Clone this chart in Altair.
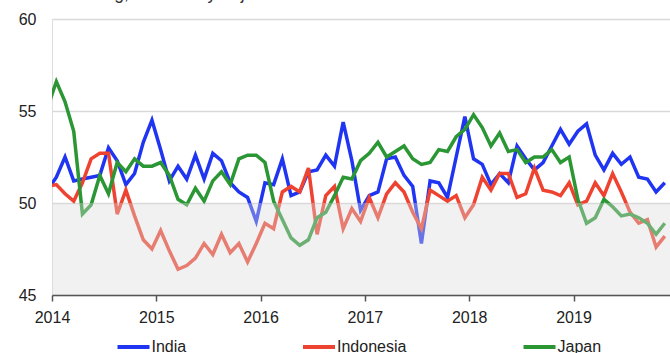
import altair as alt
import pandas as pd

# ---- data (monthly PMI, Dec 2013 .. Nov 2019) ----
months = pd.date_range("2013-12-01", "2019-11-01", freq="MS")

india = [50.7,
         51.4, 52.5, 51.2, 51.3, 51.4, 51.5, 53.0, 52.3, 51.0, 51.6, 53.3, 54.5,
         52.9, 51.2, 52.0, 51.3, 52.6, 51.3, 52.7, 52.3, 51.1, 50.6, 50.3, 49.0,
         51.1, 51.0, 52.4, 50.4, 50.6, 51.7, 51.8, 52.6, 52.0, 54.4, 52.3, 49.6,
         50.4, 50.6, 52.4, 52.5, 51.5, 50.9, 47.8, 51.2, 51.1, 50.3, 52.5, 54.7,
         52.4, 52.1, 51.0, 51.6, 51.1, 53.1, 52.4, 51.8, 52.2, 53.1, 54.0, 53.2,
         53.9, 54.3, 52.6, 51.8, 52.7, 52.1, 52.5, 51.4, 51.3, 50.6, 51.1]

indonesia = [50.9,
             51.0, 50.5, 50.1, 51.1, 52.4, 52.7, 52.7, 49.4, 50.7, 49.3, 48.0, 47.5,
             48.5, 47.4, 46.4, 46.6, 47.0, 47.8, 47.2, 48.3, 47.3, 47.8, 46.8, 47.8,
             48.9, 48.6, 50.6, 50.9, 50.6, 51.9, 48.3, 50.4, 50.9, 48.6, 49.7, 49.0,
             50.3, 49.2, 50.5, 51.1, 50.6, 49.5, 48.6, 50.7, 50.4, 50.1, 50.4, 49.2,
             49.9, 51.4, 50.7, 51.6, 51.6, 50.3, 50.5, 51.9, 50.7, 50.6, 50.4, 51.1,
             49.9, 50.1, 51.1, 50.4, 51.6, 50.6, 49.5, 48.9, 49.1, 47.6, 48.2]

japan = [55.2,
         56.6, 55.5, 53.9, 49.4, 49.9, 51.5, 50.5, 52.2, 51.7, 52.4, 52.0, 52.0,
         52.2, 51.5, 50.2, 49.9, 50.8, 50.1, 51.2, 51.7, 51.0, 52.4, 52.6, 52.6,
         52.2, 50.1, 49.1, 48.1, 47.7, 48.0, 49.2, 49.5, 50.4, 51.4, 51.3, 52.3,
         52.7, 53.3, 52.5, 52.8, 53.1, 52.4, 52.1, 52.2, 52.9, 52.8, 53.6, 54.0,
         54.8, 54.1, 53.1, 53.8, 52.8, 52.9, 52.2, 52.5, 52.5, 52.9, 52.2, 52.5,
         50.2, 48.9, 49.2, 50.2, 49.8, 49.3, 49.4, 49.2, 48.9, 48.3, 48.9]

series = ["India", "Indonesia", "Japan"]
colors = ["#1f35f2", "#ef4331", "#2b9634"]
y_ticks = [45, 50, 55, 60]
x_ticks = [2014, 2015, 2016, 2017, 2018, 2019]
threshold = 50
floor = 45
title_text = "manufacturing, seasonally adjusted"

rows = []
for name, vals in zip(series, [india, indonesia, japan]):
    for m, v in zip(months, vals):
        rows.append({"country": name,
                     "t": m.year + (m.month - 0.5) / 12.0,
                     "pmi": v})
df = pd.DataFrame(rows)

FONT = "Liberation Sans"

x_enc = alt.X("t:Q",
              scale=alt.Scale(domain=[2014, 2019.925], nice=False, zero=False),
              axis=alt.Axis(values=x_ticks, format="d", title=None, grid=False,
                            domainColor="#555555", tickColor="#555555",
                            domainWidth=1.5, tickWidth=1.5, tickSize=6,
                            labelFontSize=16, labelPadding=8, labelColor="#222222",
                            labelFont=FONT, labelFlush=False, labelOverlap=False,
                            zindex=1))
y_enc = alt.Y("pmi:Q",
              scale=alt.Scale(domain=[floor, 60], nice=False, zero=False),
              axis=alt.Axis(values=y_ticks, title=None, domain=False, ticks=False,
                            tickSize=0, labelPadding=16, labelFontSize=16,
                            labelColor="#222222", labelFont=FONT,
                            gridColor="#d9d9d9", gridWidth=1.3))

lines = alt.Chart(df).mark_line(strokeWidth=3.5, clip=True).encode(
    x=x_enc,
    y=y_enc,
    color=alt.Color("country:N",
                    scale=alt.Scale(domain=series, range=colors),
                    legend=alt.Legend(title=None, orient="none", legendX=63.5, legendY=310,
                                      direction="horizontal", symbolType="stroke",
                                      symbolSize=1024, symbolStrokeWidth=4,
                                      labelFontSize=16, labelFont=FONT,
                                      labelColor="#222222", columnPadding=108.5,
                                      labelOffset=0, padding=0, labelLimit=300)),
)

band = alt.Chart(pd.DataFrame({"k": [0]})).mark_rect(color="#d9d9d9", opacity=0.38).encode(
    x=alt.value(0), x2=alt.value("width"),
    y=alt.datum(floor), y2=alt.datum(threshold),
)

title = alt.Chart(pd.DataFrame({"label": [title_text]})).mark_text(
    align="left", baseline="alphabetic", fontSize=17.5, font=FONT, color="#333333"
).encode(text="label:N", x=alt.value(-39), y=alt.value(-20))

chart = alt.layer(lines, band, title).properties(
    width=618, height=276,
    autosize=alt.AutoSizeParams(type="none"),
    padding={"left": 52, "top": 19, "right": 0, "bottom": 58},
).configure_view(stroke=None).configure(font=FONT)

chart.save("out.html", embed_options={"renderer": "svg", "actions": False})
